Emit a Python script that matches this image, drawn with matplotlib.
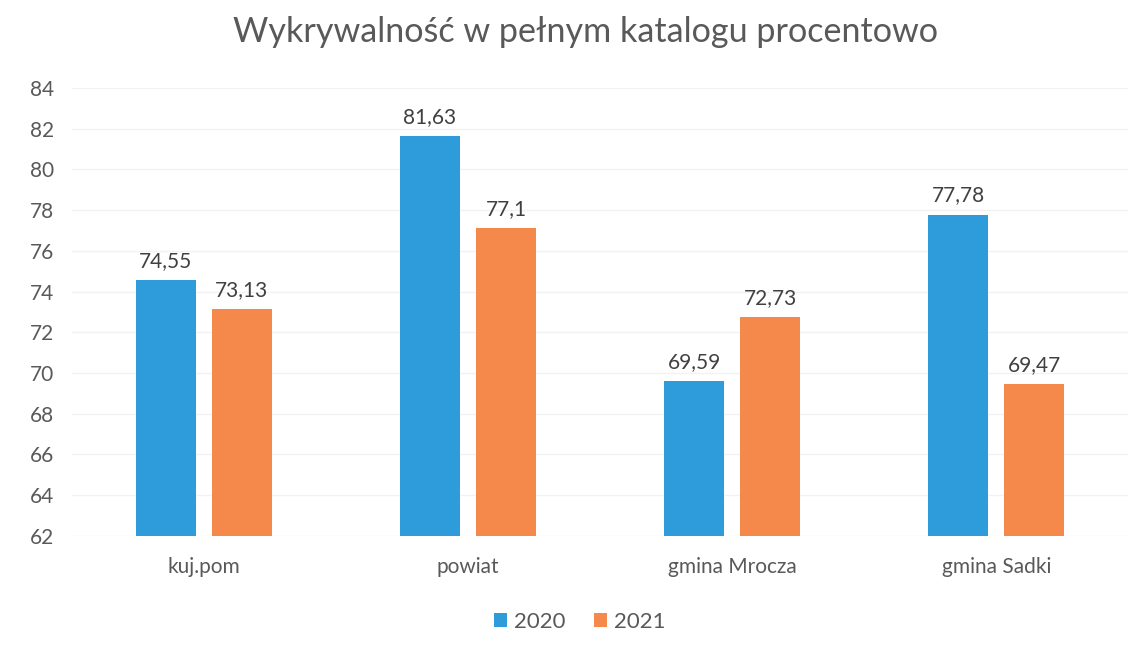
import matplotlib
matplotlib.use("Agg")
import matplotlib.pyplot as plt
import numpy as np

categories = ["kuj.pom", "powiat", "gmina Mrocza", "gmina Sadki"]
series_names = ["2020", "2021"]
values_2020 = [74.55, 81.63, 69.59, 77.78]
values_2021 = [73.13, 77.1, 72.73, 69.47]
labels_2020 = ["74,55", "81,63", "69,59", "77,78"]
labels_2021 = ["73,13", "77,1", "72,73", "69,47"]
yticks = list(range(62, 85, 2))

plt.rcParams['font.family'] = ['Lato', 'DejaVu Sans']

fig = plt.figure(figsize=(11.41, 6.56), dpi=100)
ax = fig.add_axes([0.063, 0.183, 0.926, 0.683])

x = np.arange(len(categories))
w = 0.227
off = 0.144
c1 = "#2E9CDB"
c2 = "#F4894B"
base = 62
b1 = ax.bar(x - off, np.array(values_2020) - base, w, bottom=base, color=c1, label=series_names[0], zorder=3)
b2 = ax.bar(x + off, np.array(values_2021) - base, w, bottom=base, color=c2, label=series_names[1], zorder=3)

for xi, v, t in zip(x - off, values_2020, labels_2020):
    ax.text(xi, v + 0.45, t, ha='center', va='bottom', fontsize=15, color="#404040")
for xi, v, t in zip(x + off, values_2021, labels_2021):
    ax.text(xi, v + 0.45, t, ha='center', va='bottom', fontsize=15, color="#404040")

ax.set_ylim(62, 84)
ax.set_xlim(-0.5, len(categories) - 0.5)
ax.set_yticks(yticks)
ax.set_xticks(x)
ax.set_xticklabels(categories)
ax.tick_params(axis='y', labelsize=15, colors="#595959", length=0, pad=13)
ax.tick_params(axis='x', labelsize=15, colors="#595959", length=0, pad=15)
for s in ax.spines.values():
    s.set_visible(False)
ax.grid(axis='y', color="#F2F2F2", linewidth=1, zorder=0)

fig.suptitle("Wykrywalność w pełnym katalogu procentowo", x=0.513, y=0.975, fontsize=24.6, color="#595959")

fig.legend(handles=[b1, b2], loc='center', bbox_to_anchor=(0.508, 0.052), ncol=2, frameon=False,
           fontsize=16, labelcolor="#595959", handlelength=0.6, handleheight=0.6, handletextpad=0.3,
           columnspacing=1.3)

fig.savefig("out.png", dpi=100, facecolor="white")
